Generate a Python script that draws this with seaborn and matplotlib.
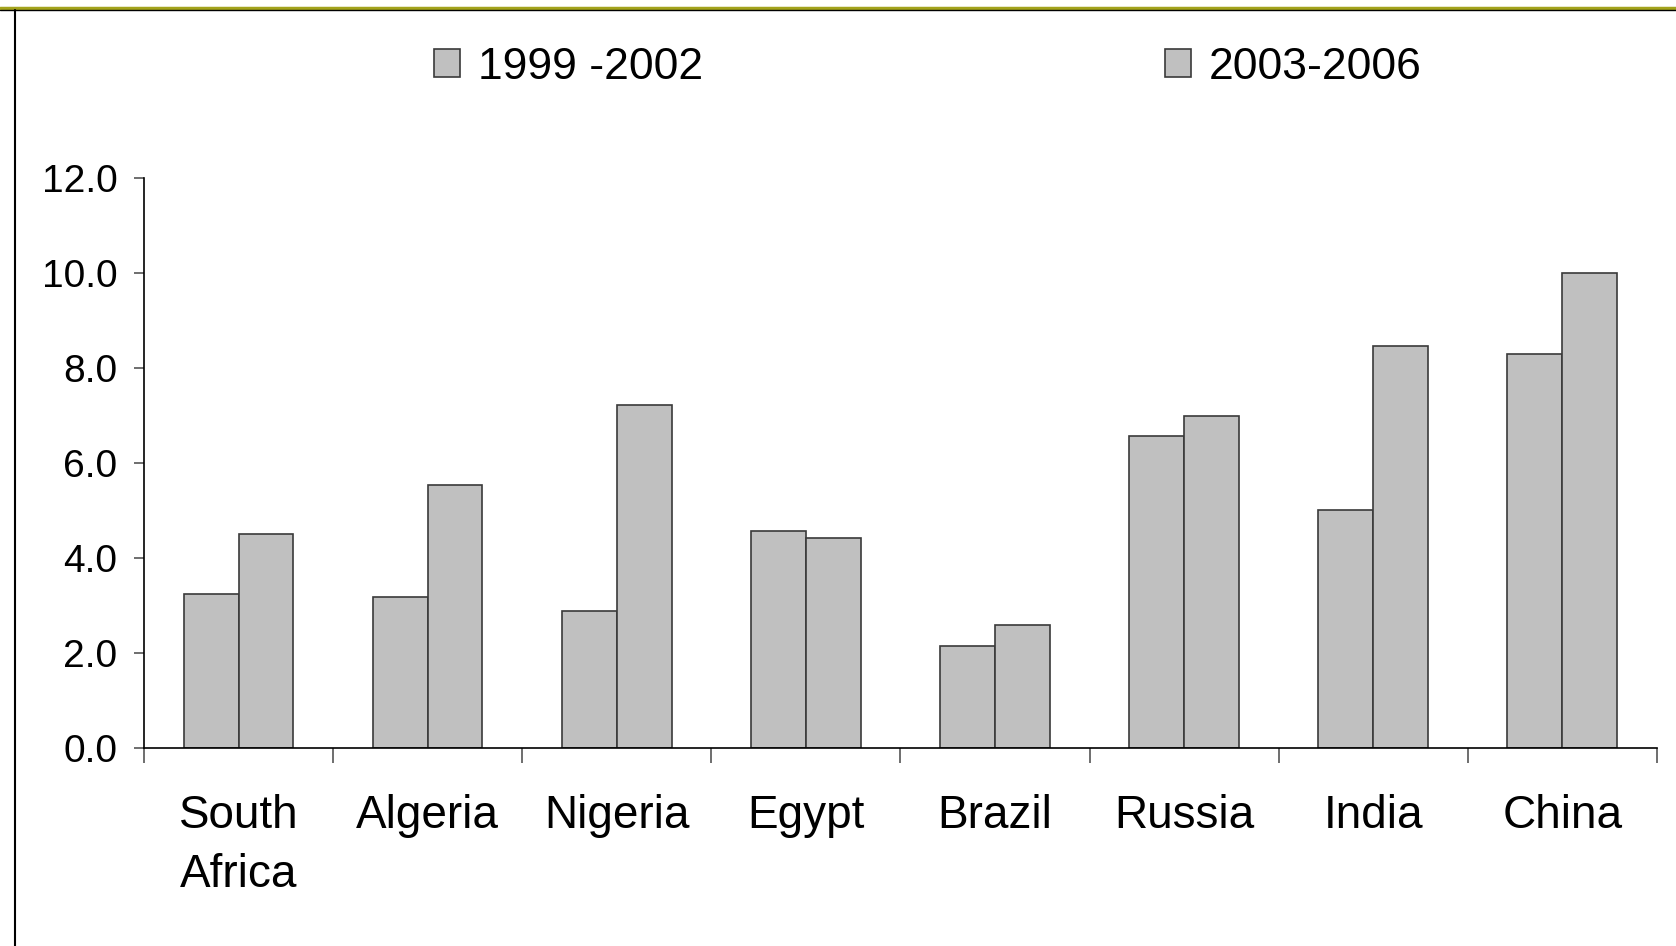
import pandas as pd
import matplotlib.pyplot as plt
import matplotlib.lines as mlines
import seaborn as sns
import numpy as np

# chart values
countries = ["South\nAfrica", "Algeria", "Nigeria", "Egypt", "Brazil", "Russia", "India", "China"]
periods = ["1999 -2002", "2003-2006"]
vals_1999_2002 = [3.25, 3.17, 2.88, 4.57, 2.14, 6.56, 5.02, 8.30]
vals_2003_2006 = [4.50, 5.53, 7.22, 4.42, 2.58, 6.99, 8.46, 10.01]
yticks = [0, 2, 4, 6, 8, 10, 12]

df = pd.DataFrame({
    "Country": countries * 2,
    "Period": [periods[0]] * len(countries) + [periods[1]] * len(countries),
    "Value": vals_1999_2002 + vals_2003_2006,
})

sns.set_style("white")
plt.rcParams['font.family'] = ['Liberation Sans', 'DejaVu Sans']
plt.rcParams['text.color'] = 'black'

fig = plt.figure(figsize=(16.76, 9.46), dpi=100)
ax = fig.add_axes([0.0859, 0.2093, 0.9027, 0.6025])

sns.barplot(data=df, x="Country", y="Value", hue="Period", order=countries,
            hue_order=periods, palette=["#C0C0C0", "#C0C0C0"], width=0.58,
            edgecolor="#3a3a3a", linewidth=1.2, saturation=1, ax=ax)

ax.set_xlim(-0.5, len(countries) - 0.5)
ax.set_ylim(0, 12)
ax.set_yticks(yticks)
ax.set_yticklabels([f"{v:.1f}" for v in yticks])
ax.set_xlabel("")
ax.set_ylabel("")

for s in ["top", "right"]:
    ax.spines[s].set_visible(False)
for s in ["left", "bottom"]:
    ax.spines[s].set_color("black")
    ax.spines[s].set_linewidth(1.2)

# category labels at centres, tick marks at the boundaries
ax.set_xticks(np.arange(-0.5, len(countries)), minor=True)
ax.tick_params(axis="x", which="major", bottom=True, length=0, pad=33, labelsize=33,
               labelcolor="black")
ax.tick_params(axis="x", which="minor", bottom=True, direction="out", length=11, width=1.2,
               color="#555555")
ax.tick_params(axis="y", left=True, direction="out", length=7, width=1.2, color="#555555",
               labelsize=28, pad=12, labelcolor="black")
for lbl in ax.get_xticklabels():
    lbl.set_linespacing(1.45)

# legend on top
handles, labels = ax.get_legend_handles_labels()
ax.legend_.remove()
fig.legend(handles, labels, loc="center", bbox_to_anchor=(0.5535, 0.929), ncol=2,
           frameon=False, fontsize=32, handlelength=0.58, handleheight=0.58,
           handletextpad=0.4, columnspacing=10.4, labelcolor="black")

# slide frame lines
fig.add_artist(mlines.Line2D([0, 1], [1 - 8.5 / 946] * 2, color="#A3A31C", linewidth=2.5,
                             transform=fig.transFigure))
fig.add_artist(mlines.Line2D([0, 1], [1 - 10.5 / 946] * 2, color="black", linewidth=1.0,
                             transform=fig.transFigure))
fig.add_artist(mlines.Line2D([15 / 1676] * 2, [0, 1 - 10.5 / 946], color="black", linewidth=1.5,
                             transform=fig.transFigure))

fig.savefig("out.png", dpi=100)
